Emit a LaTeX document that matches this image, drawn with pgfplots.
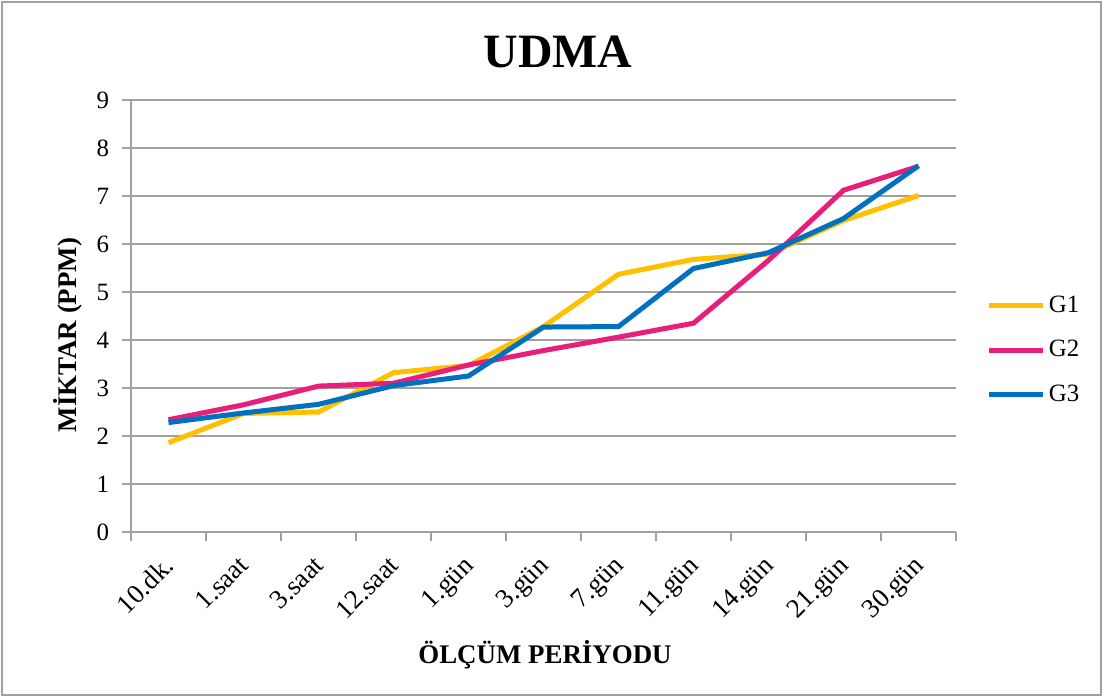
\documentclass[border=0pt]{standalone}
\usepackage{pgfplots}
\pgfplotsset{compat=1.18}
\usepackage{fontspec}
\setmainfont{Liberation Serif}
\definecolor{cYel}{RGB}{255,192,0}
\definecolor{cPink}{RGB}{233,30,122}
\definecolor{cBlue}{RGB}{0,112,192}
\definecolor{cGrid}{RGB}{160,160,160}
\begin{document}
\begin{tikzpicture}[x=1bp,y=1bp]
\useasboundingbox (-65.5,-82.5) rectangle (486,266);
\draw[cGrid,line width=1.2bp] (-64.5,-81.5) rectangle (485,265);
\begin{axis}[
  at={(0,0)}, anchor=south west,
  scale only axis, width=412.5bp, height=216bp,
  xmin=-0.5, xmax=10.5, ymin=0, ymax=9,
  axis x line*=bottom, axis y line*=left,
  axis line style={cGrid, line width=1bp},
  xtick={0,...,10},
  xticklabels={10.dk.,1.saat,3.saat,12.saat,1.gün,3.gün,7.gün,11.gün,14.gün,21.gün,30.gün},
  minor xtick={-0.5,0.5,...,10.5},
  major x tick style={draw=none},
  minor x tick style={cGrid, line width=1bp},
  minor tick length=4.5bp,
  ytick={0,...,9},
  major y tick style={cGrid, line width=1bp},
  major tick length=4.5bp,
  tick align=outside,
  ymajorgrids, grid style={cGrid, line width=1bp},
  xticklabel style={rotate=45, anchor=north east, font=\fontsize{13.5}{15}\selectfont, inner sep=1bp, xshift=-5.8bp, yshift=-1.3bp},
  yticklabel style={font=\fontsize{12.5}{14}\selectfont, xshift=-3bp},
  /pgf/number format/assume math mode=true,
  legend style={at={(1.037,0.421)}, anchor=west, draw=none, fill=none,
    font=\fontsize{12.5}{14}\selectfont, row sep=9.5bp, inner sep=0pt,
    nodes={inner sep=1.5bp}},
  legend cell align=left,
  legend image code/.code={\draw[#1, line width=2.5bp] (0bp,0bp) -- (27bp,0bp);},
  clip=false,
]
\addplot[cYel, line width=2.5bp] coordinates {(0,1.86) (1,2.47) (2,2.50) (3,3.32) (4,3.47) (5,4.28) (6,5.37) (7,5.68) (8,5.79) (9,6.49) (10,7.01)};
\addlegendentry{G1}
\addplot[cPink, line width=2.5bp] coordinates {(0,2.34) (1,2.65) (2,3.04) (3,3.10) (4,3.48) (5,3.78) (6,4.06) (7,4.35) (8,5.66) (9,7.12) (10,7.62)};
\addlegendentry{G2}
\addplot[cBlue, line width=2.5bp] coordinates {(0,2.28) (1,2.48) (2,2.66) (3,3.05) (4,3.25) (5,4.27) (6,4.28) (7,5.49) (8,5.82) (9,6.53) (10,7.63)};
\addlegendentry{G3}
\end{axis}
\node[font=\bfseries\fontsize{24}{28}\selectfont] at (213.5,240) {UDMA};
\node[font=\bfseries\fontsize{13.5}{15}\selectfont, rotate=90] at (-31.5,98.5) {MİKTAR (PPM)};
\node[font=\bfseries\fontsize{13.5}{15}\selectfont] at (207,-61.5) {ÖLÇÜM PERİYODU};
\end{tikzpicture}
\end{document}
